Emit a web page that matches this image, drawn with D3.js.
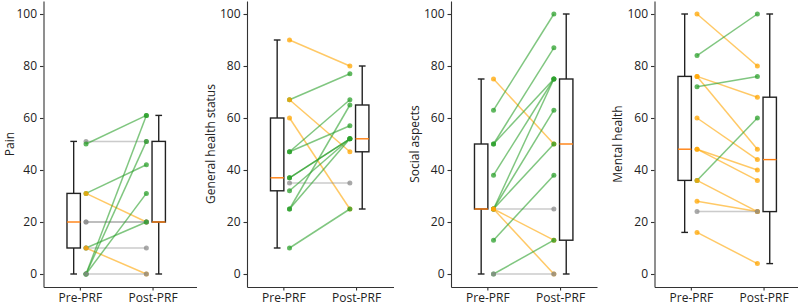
<!DOCTYPE html>
<html>
<head>
<meta charset="utf-8">
<script src="https://cdn.jsdelivr.net/npm/d3@7"></script>
<style>
  body { margin: 0; background: #fff; }
  text { font-family: "Open Sans", sans-serif; fill: #222; }
  .axis path, .axis line { stroke: #333; stroke-width: 1.1; }
  .axis text { font-size: 12px; fill: #222; }
</style>
</head>
<body>
<div id="vis"></div>
<script>
var W = 800,
    H = 305;

// titles and tick labels
const titles = ["Pain", "General health status", "Social aspects", "Mental health"];
const groups = ["Pre-PRF", "Post-PRF"];
const yTicks = [0, 20, 40, 60, 80, 100];

// paired scores, one entry per patient
const painPre  = [51, 50, 31, 31, 20, 20, 10, 10, 10, 0, 0, 0, 0];
const painPost = [51, 61, 42, 20, 20, 20, 20, 10, 0, 61, 51, 31, 0];
const healthPre  = [90, 67, 67, 60, 47, 47, 37, 37, 35, 32, 25, 25, 10];
const healthPost = [80, 77, 47, 25, 67, 57, 52, 52, 35, 52, 65, 52, 25];
const socialPre  = [75, 63, 50, 50, 38, 25, 25, 25, 25, 25, 25, 13, 0, 0];
const socialPost = [50, 100, 87, 75, 75, 75, 63, 50, 25, 13, 0, 38, 13, 0];
const mentalPre  = [100, 84, 76, 76, 72, 60, 48, 48, 36, 36, 28, 24, 16];
const mentalPost = [80, 100, 68, 48, 76, 44, 40, 36, 60, 24, 24, 24, 4];

// box stats: [min, q1, median, q3, max]
const painPreBox  = [0, 10, 20, 31, 51];
const painPostBox = [0, 20, 20, 51, 61];
const healthPreBox  = [10, 32, 37, 60, 90];
const healthPostBox = [25, 47, 52, 65, 80];
const socialPreBox  = [0, 25, 25, 50, 75];
const socialPostBox = [0, 13, 50, 75, 100];
const mentalPreBox  = [16, 36, 48, 76, 100];
const mentalPostBox = [4, 24, 44, 68, 100];

const pre = [painPre, healthPre, socialPre, mentalPre];
const post = [painPost, healthPost, socialPost, mentalPost];
const preBox = [painPreBox, healthPreBox, socialPreBox, mentalPreBox];
const postBox = [painPostBox, healthPostBox, socialPostBox, mentalPostBox];

// layout
const left = [43.5, 247, 451, 654.5],
      widths = [153, 146.5, 146, 143],
      unit = 72.7,          // px per category step
      off = 0.085,          // offset of boxes / points from the tick
      boxHalf = 0.092,
      capHalf = 0.046;

const up = "#2ca02c", down = "#ffa500", same = "#8c8c8c";
function colour(a, b) { return b > a ? up : (b < a ? down : same); }

const svg = d3.select("#vis").append("svg")
    .attr("width", W)
    .attr("height", H);

const y = d3.scaleLinear().domain([-5, 105]).range([287, 1]);

titles.forEach(function(title, k) {
  const w = widths[k];
  const x = d3.scaleLinear().domain([0.5, 0.5 + w / unit]).range([0, w]);
  const g = svg.append("g").attr("transform", "translate(" + [left[k], 0] + ")");

  // boxes
  [[preBox[k], 1 - off], [postBox[k], 2 + off]].forEach(function(b) {
    const s = b[0], c = b[1];
    const bx = g.append("g");
    bx.append("line")
        .attr("x1", x(c)).attr("x2", x(c))
        .attr("y1", y(s[0])).attr("y2", y(s[1]))
        .attr("stroke", "#222").attr("stroke-width", 1.4);
    bx.append("line")
        .attr("x1", x(c)).attr("x2", x(c))
        .attr("y1", y(s[3])).attr("y2", y(s[4]))
        .attr("stroke", "#222").attr("stroke-width", 1.4);
    [s[0], s[4]].forEach(function(v) {
      bx.append("line")
          .attr("x1", x(c - capHalf)).attr("x2", x(c + capHalf))
          .attr("y1", y(v)).attr("y2", y(v))
          .attr("stroke", "#222").attr("stroke-width", 1.4);
    });
    bx.append("rect")
        .attr("x", x(c - boxHalf))
        .attr("y", y(s[3]))
        .attr("width", x(c + boxHalf) - x(c - boxHalf))
        .attr("height", y(s[1]) - y(s[3]))
        .attr("fill", "none")
        .attr("stroke", "#222").attr("stroke-width", 1.4);
    bx.append("line")
        .attr("x1", x(c - boxHalf)).attr("x2", x(c + boxHalf))
        .attr("y1", y(s[2])).attr("y2", y(s[2]))
        .attr("stroke", "#ff7f0e").attr("stroke-width", 1.4);
  });

  // paired lines with markers
  const pairs = pre[k].map(function(v, i) { return [v, post[k][i]]; });
  const p = g.selectAll("g.pair")
      .data(pairs)
    .enter().append("g")
      .attr("class", "pair");
  p.append("line")
      .attr("x1", x(1 + off)).attr("x2", x(2 - off))
      .attr("y1", function(d) { return y(d[0]); })
      .attr("y2", function(d) { return y(d[1]); })
      .attr("stroke", function(d) { return colour(d[0], d[1]); })
      .attr("stroke-width", 1.5)
      .attr("stroke-opacity", function(d) { return d[0] === d[1] ? 0.45 : 0.6; });
  [[0, 1 + off], [1, 2 - off]].forEach(function(e) {
    p.append("circle")
        .attr("cx", x(e[1]))
        .attr("cy", function(d) { return y(d[e[0]]); })
        .attr("r", 2.5)
        .attr("fill", function(d) { return colour(d[0], d[1]); })
        .attr("fill-opacity", 0.75);
  });

  // axes
  g.append("g")
      .attr("class", "axis")
      .call(d3.axisLeft(y).tickValues(yTicks).tickSize(3.5).tickSizeOuter(0).tickPadding(3));
  g.append("g")
      .attr("class", "axis")
      .attr("transform", "translate(0,287)")
      .call(d3.axisBottom(x).tickValues([1, 2]).tickFormat(function(d) { return groups[d - 1]; })
          .tickSize(3.5).tickSizeOuter(0).tickPadding(3));

  // keep the y label inside the page on the first panel
  const lx = Math.max(-36.5, 9.5 - left[k]);
  g.append("text")
      .attr("transform", "translate(" + [lx, 144] + ") rotate(-90)")
      .attr("text-anchor", "middle")
      .attr("dy", "0.35em")
      .style("font-size", "12px")
      .text(title);
});
</script>
</body>
</html>
